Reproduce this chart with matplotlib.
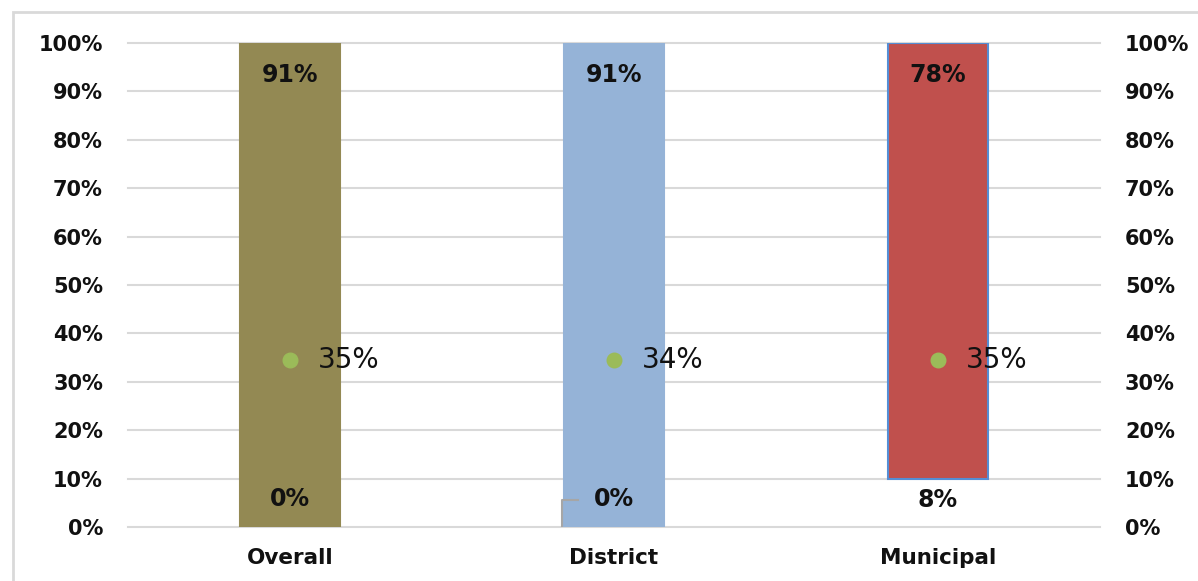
import matplotlib.pyplot as plt
from matplotlib.patches import Rectangle
from matplotlib.lines import Line2D

# ===== Data ===================================================================

categories = ["Overall", "District", "Municipal"]
barLow = [0, 0, 10]        # bottom of each range bar (%)
barHigh = [100, 100, 100]  # top of each range bar (%)
meanValues = [34.5, 34.5, 34.5]
highLabels = ["91%", "91%", "78%"]
lowLabels = ["0%", "0%", "8%"]
meanLabels = ["35%", "34%", "35%"]
yTicks = [0, 10, 20, 30, 40, 50, 60, 70, 80, 90, 100]

barColors = ["#938953", "#95B3D7", "#C0504D"]
barEdges = ["#938953", "#95B3D7", "#558ED5"]

# ===== Plot ===================================================================

fig = plt.figure(figsize=(11.98, 5.81), dpi=100)
ax = fig.add_axes([0.1068, 0.0929, 0.8114, 0.8331])

x = list(range(len(categories)))
ax.bar(x, [h - l for h, l in zip(barHigh, barLow)], bottom=barLow,
       width=0.31, color=barColors, edgecolor=barEdges, linewidth=1.5,
       zorder=2)
ax.scatter(x, meanValues, s=110, color="#9BBB59", zorder=3)

for i in x:
    ax.text(i, barHigh[i] - 6.6, highLabels[i], ha="center", va="center",
            fontsize=17, fontweight="bold", color="#111111", zorder=4)
    lowY = barLow[i] - 4.5 if barLow[i] > 0 else 5.8
    ax.text(i, lowY, lowLabels[i], ha="center", va="center", fontsize=17,
            fontweight="bold", color="#111111", zorder=4)
    ax.text(i + 0.085, meanValues[i], meanLabels[i], ha="left", va="center",
            fontsize=20, color="#111111", zorder=4)

# small leader line artifact near District low label
ax.add_line(Line2D([0.84, 0.84, 0.89], [0, 5.6, 5.6], color="#A6A6A6",
                   linewidth=1.5, zorder=4))

ax.set_xlim(-0.5, 2.5)
ax.set_ylim(0, 100)
ax.set_yticks(yTicks)
ax.set_yticklabels([f"{t}%" for t in yTicks])
ax.set_xticks(x)
ax.set_xticklabels(categories)
ax.grid(axis="y", color="#D9D9D9", linewidth=1.5, zorder=0)
ax.set_axisbelow(True)
for line in ax.get_ygridlines():
    line.set_clip_on(False)
for spine in ax.spines.values():
    spine.set_visible(False)
ax.tick_params(axis="both", length=0, labelsize=15)
ax.tick_params(axis="y", pad=18, labelleft=True, labelright=True)
ax.tick_params(axis="x", pad=15, labelsize=15.5)
for lbl in ax.get_xticklabels():
    lbl.set_fontweight("bold")
    lbl.set_color("#111111")
for tick in ax.yaxis.get_major_ticks():
    for lbl in (tick.label1, tick.label2):
        lbl.set_fontweight("bold")
        lbl.set_color("#111111")

# outer chart frame
fig.patches.append(Rectangle((0.011, -0.05), 1.2, 1.03,
                             transform=fig.transFigure, fill=False,
                             edgecolor="#D9D9D9", linewidth=2))

fig.savefig("out.png", dpi=100)
